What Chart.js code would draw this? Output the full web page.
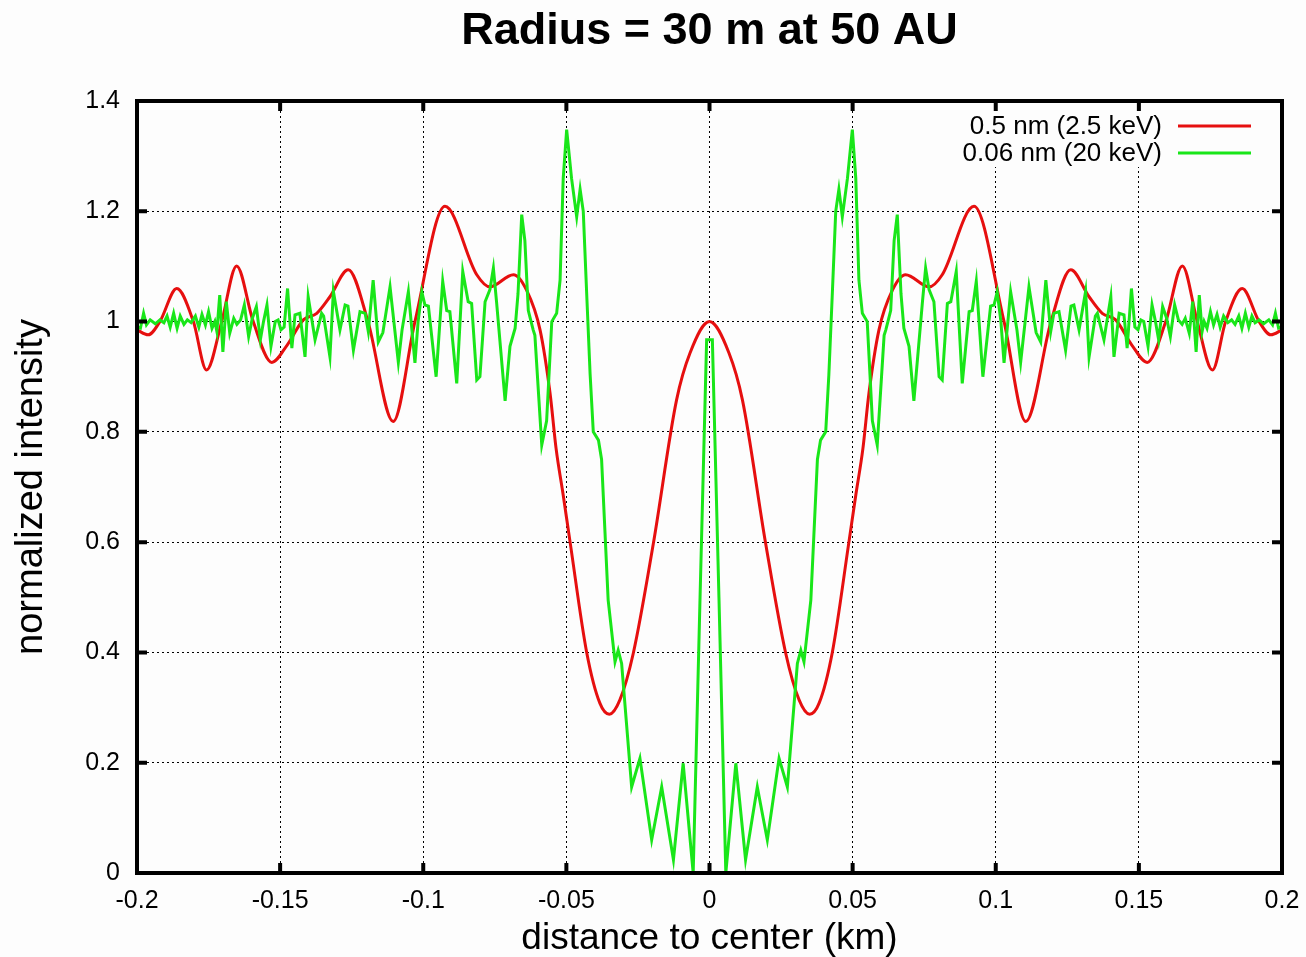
<!DOCTYPE html>
<html>
<head>
<meta charset="utf-8">
<script src="https://cdn.jsdelivr.net/npm/chart.js@4.4.1/dist/chart.umd.min.js"></script>
<style>
  body { margin: 0; background: #fdfdfd; }
  canvas { display: block; }
</style>
</head>
<body>
<canvas id="myChart" width="1306" height="957"></canvas>
<script>
/* data */
const xTicks = [-0.2, -0.15, -0.1, -0.05, 0, 0.05, 0.1, 0.15, 0.2];
const yTicks = [0, 0.2, 0.4, 0.6, 0.8, 1, 1.2, 1.4];

const redLabel = '0.5 nm (2.5 keV)';
const greenLabel = '0.06 nm (20 keV)';

const redDist = [
    -0.2000, -0.1961, -0.1920, -0.1861, -0.1803, -0.1757, -0.1704, -0.1652, -0.1594, -0.1529,
    -0.1476, -0.1419, -0.1372, -0.1326, -0.1262, -0.1193, -0.1105, -0.1029, -0.0924, -0.0813,
    -0.0767, -0.0685, -0.0639, -0.0592, -0.0557, -0.0536, -0.0511, -0.0487, -0.0429, -0.0383,
    -0.0350, -0.0313, -0.0266, -0.0196, -0.0115, -0.0068, 0,
    0.0068, 0.0115, 0.0196, 0.0266, 0.0313, 0.0350, 0.0383, 0.0429, 0.0487, 0.0511,
    0.0536, 0.0557, 0.0592, 0.0639, 0.0685, 0.0767, 0.0813, 0.0924, 0.1029, 0.1105,
    0.1193, 0.1262, 0.1326, 0.1372, 0.1419, 0.1476, 0.1529, 0.1594, 0.1652, 0.1704,
    0.1757, 0.1803, 0.1861, 0.1920, 0.1961, 0.2000
];
const redIntensity = [
    0.985, 0.976, 1.000, 1.060, 1.000, 0.912, 1.000, 1.101, 1.000, 0.926,
    0.957, 1.003, 1.015, 1.045, 1.094, 1.000, 0.819, 1.000, 1.209, 1.085,
    1.063, 1.085, 1.057, 0.985, 0.870, 0.770, 0.685, 0.600, 0.400, 0.308,
    0.288, 0.314, 0.399, 0.598, 0.858, 0.943, 1.000,
    0.943, 0.858, 0.598, 0.399, 0.314, 0.288, 0.308, 0.400, 0.600, 0.685,
    0.770, 0.870, 0.985, 1.057, 1.085, 1.063, 1.085, 1.209, 1.000, 0.819,
    1.000, 1.094, 1.045, 1.015, 1.003, 0.957, 0.926, 1.000, 1.101, 1.000,
    0.912, 1.000, 1.060, 1.000, 0.976, 0.985
];

const greenDist = [
    -0.2000, -0.1988, -0.1977, -0.1967, -0.1954, -0.1936, -0.1920, -0.1906, -0.1895, -0.1884,
    -0.1872, -0.1860, -0.1849, -0.1836, -0.1824, -0.1811, -0.1796, -0.1784, -0.1773, -0.1761,
    -0.1750, -0.1738, -0.1728, -0.1721, -0.1711, -0.1700, -0.1688, -0.1676, -0.1662, -0.1651,
    -0.1638, -0.1625, -0.1610, -0.1597, -0.1583, -0.1569, -0.1558, -0.1546, -0.1532, -0.1517,
    -0.1507, -0.1497, -0.1486, -0.1474, -0.1459, -0.1448, -0.1431, -0.1413, -0.1402, -0.1378,
    -0.1355, -0.1348, -0.1326, -0.1314, -0.1291, -0.1273, -0.1263, -0.1244, -0.1221, -0.1203,
    -0.1192, -0.1175, -0.1157, -0.1141, -0.1116, -0.1087, -0.1074, -0.1052, -0.1029, -0.1018,
    -0.1005, -0.0994, -0.0982, -0.0955, -0.0932, -0.0918, -0.0907, -0.0883, -0.0862, -0.0843,
    -0.0831, -0.0813, -0.0802, -0.0784, -0.0767, -0.0755, -0.0744, -0.0714, -0.0697, -0.0679,
    -0.0669, -0.0656, -0.0645, -0.0633, -0.0616, -0.0610, -0.0586, -0.0569, -0.0551, -0.0534,
    -0.0522, -0.0511, -0.0499, -0.0482, -0.0464, -0.0452, -0.0441, -0.0429, -0.0417, -0.0406,
    -0.0388, -0.0377, -0.0354, -0.0330, -0.0319, -0.0307, -0.0272, -0.0243, -0.0202, -0.0167,
    -0.0126, -0.0092, -0.0057, -0.0033, -0.0010,
    0.0010, 0.0033, 0.0057, 0.0092, 0.0126,
    0.0167, 0.0202, 0.0243, 0.0272, 0.0307, 0.0319, 0.0330, 0.0354, 0.0377, 0.0388,
    0.0406, 0.0417, 0.0429, 0.0441, 0.0452, 0.0464, 0.0482, 0.0499, 0.0511, 0.0522,
    0.0534, 0.0551, 0.0569, 0.0586, 0.0610, 0.0616, 0.0633, 0.0645, 0.0656, 0.0669,
    0.0679, 0.0697, 0.0714, 0.0744, 0.0755, 0.0767, 0.0784, 0.0802, 0.0813, 0.0831,
    0.0843, 0.0862, 0.0883, 0.0907, 0.0918, 0.0932, 0.0955, 0.0982, 0.0994, 0.1005,
    0.1018, 0.1029, 0.1052, 0.1074, 0.1087, 0.1116, 0.1141, 0.1157, 0.1175, 0.1192,
    0.1203, 0.1221, 0.1244, 0.1263, 0.1273, 0.1291, 0.1314, 0.1326, 0.1348, 0.1355,
    0.1378, 0.1402, 0.1413, 0.1431, 0.1448, 0.1459, 0.1474, 0.1486, 0.1497, 0.1507,
    0.1517, 0.1532, 0.1546, 0.1558, 0.1569, 0.1583, 0.1597, 0.1610, 0.1625, 0.1638,
    0.1651, 0.1662, 0.1676, 0.1688, 0.1700, 0.1711, 0.1721, 0.1728, 0.1738, 0.1750,
    0.1761, 0.1773, 0.1784, 0.1796, 0.1811, 0.1824, 0.1836, 0.1849, 0.1860, 0.1872,
    0.1884, 0.1895, 0.1906, 0.1920, 0.1936, 0.1954, 0.1967, 0.1977, 0.1988, 0.2000
];
const greenIntensity = [
    0.990, 0.988, 1.015, 0.994, 1.003, 0.996, 1.003, 0.998, 1.010, 0.990,
    1.015, 0.988, 1.010, 0.995, 1.003, 0.998, 1.010, 0.990, 1.013, 0.994,
    1.018, 0.988, 1.000, 0.982, 1.048, 0.945, 1.036, 0.979, 1.006, 0.995,
    1.003, 1.030, 0.973, 1.006, 1.027, 0.967, 1.000, 1.030, 0.955, 1.000,
    1.003, 0.985, 0.990, 1.060, 0.952, 1.012, 1.015, 0.936, 1.045, 0.967,
    1.015, 1.010, 0.936, 1.055, 0.985, 1.030, 1.028, 0.948, 1.018, 1.015,
    0.982, 1.075, 0.963, 0.980, 1.063, 0.926, 0.985, 1.054, 0.925, 1.000,
    1.054, 1.030, 1.028, 0.900, 1.073, 1.020, 1.018, 0.888, 1.091, 1.036,
    1.033, 0.894, 0.900, 1.036, 1.058, 1.097, 1.036, 0.856, 0.955, 0.988,
    1.050, 1.194, 1.147, 1.020, 0.985, 0.975, 0.776, 0.820, 1.000, 1.015,
    1.075, 1.260, 1.348, 1.260, 1.190, 1.240, 1.200, 1.050, 0.904, 0.800,
    0.785, 0.750, 0.495, 0.383, 0.404, 0.380, 0.156, 0.208, 0.060, 0.156,
    0.024, 0.199, 0.000, 0.500, 0.967,
    0.967, 0.500, 0.000, 0.199, 0.024,
    0.156, 0.060, 0.208, 0.156, 0.380, 0.404, 0.383, 0.495, 0.750, 0.785,
    0.800, 0.904, 1.050, 1.200, 1.240, 1.190, 1.260, 1.348, 1.260, 1.075,
    1.015, 1.000, 0.820, 0.776, 0.975, 0.985, 1.020, 1.147, 1.194, 1.050,
    0.988, 0.955, 0.856, 1.036, 1.097, 1.058, 1.036, 0.900, 0.894, 1.033,
    1.036, 1.091, 0.888, 1.018, 1.020, 1.073, 0.900, 1.028, 1.030, 1.054,
    1.000, 0.925, 1.054, 0.985, 0.926, 1.063, 0.980, 0.963, 1.075, 0.982,
    1.015, 1.018, 0.948, 1.028, 1.030, 0.985, 1.055, 0.936, 1.010, 1.015,
    0.967, 1.045, 0.936, 1.015, 1.012, 0.952, 1.060, 0.990, 0.985, 1.003,
    1.000, 0.955, 1.030, 1.000, 0.967, 1.027, 1.006, 0.973, 1.030, 1.003,
    0.995, 1.006, 0.979, 1.036, 0.945, 1.048, 0.982, 1.000, 0.988, 1.018,
    0.994, 1.013, 0.990, 1.010, 0.998, 1.003, 0.995, 1.010, 0.988, 1.015,
    0.990, 1.010, 0.998, 1.003, 0.996, 1.003, 0.994, 1.015, 0.988, 0.990
];

const RED = '#e60f0f';
const GREEN = '#19e619';
const FONT = '"Liberation Sans", Arial, Helvetica, sans-serif';

function toPoints(xs, ys) {
    return xs.map((x, i) => ({ x: x, y: ys[i] }));
}

function fmt(v) {
    return String(Number(v.toFixed(2)));
}

/* frame, inward ticks and the legend in the corner, gnuplot style */
const gnuplotFrame = {
    id: 'gnuplotFrame',
    beforeDraw(chart) {
        const ctx = chart.ctx;
        ctx.save();
        ctx.fillStyle = '#fdfdfd';
        ctx.fillRect(0, 0, chart.width, chart.height);
        ctx.restore();
    },
    beforeDatasetsDraw(chart) {
        const ctx = chart.ctx;
        ctx.save();
        ctx.fillStyle = '#fdfdfd';
        ctx.fillRect(958, 109, 310, 58);
        ctx.restore();
    },
    afterDraw(chart) {
        const ctx = chart.ctx;
        const a = chart.chartArea;
        const xs = chart.scales.x;
        const ys = chart.scales.y;
        ctx.save();
        ctx.strokeStyle = '#000';
        ctx.lineWidth = 4;
        ctx.beginPath();
        xTicks.forEach(v => {
            const p = xs.getPixelForValue(v);
            ctx.moveTo(p, a.bottom); ctx.lineTo(p, a.bottom - 10);
            ctx.moveTo(p, a.top); ctx.lineTo(p, a.top + 10);
        });
        yTicks.forEach(v => {
            const p = ys.getPixelForValue(v);
            ctx.moveTo(a.left, p); ctx.lineTo(a.left + 10, p);
            ctx.moveTo(a.right, p); ctx.lineTo(a.right - 10, p);
        });
        ctx.stroke();
        ctx.strokeRect(a.left, a.top, a.right - a.left, a.bottom - a.top);

        // legend
        ctx.font = '26px ' + FONT;
        ctx.fillStyle = '#000';
        ctx.textAlign = 'right';
        ctx.textBaseline = 'middle';
        ctx.fillText(redLabel, 1162, 127);
        ctx.fillText(greenLabel, 1162, 154);
        ctx.lineWidth = 3;
        ctx.strokeStyle = RED;
        ctx.beginPath(); ctx.moveTo(1178, 126); ctx.lineTo(1251, 126); ctx.stroke();
        ctx.strokeStyle = GREEN;
        ctx.beginPath(); ctx.moveTo(1178, 153); ctx.lineTo(1251, 153); ctx.stroke();
        ctx.restore();
    }
};

const ctx = document.getElementById('myChart').getContext('2d');
const myChart = new Chart(ctx, {
    type: 'line',
    data: {
        datasets: [{
            label: redLabel,
            data: toPoints(redDist, redIntensity),
            borderColor: RED,
            borderWidth: 3,
            pointRadius: 0,
            cubicInterpolationMode: 'monotone',
            order: 2
        }, {
            label: greenLabel,
            data: toPoints(greenDist, greenIntensity),
            borderColor: GREEN,
            borderWidth: 3,
            pointRadius: 0,
            tension: 0,
            order: 1
        }]
    },
    options: {
        responsive: false,
        animation: false,
        devicePixelRatio: 1,
        layout: { padding: { left: 0, right: 24, top: 0, bottom: 0 } },
        plugins: {
            legend: { display: false },
            tooltip: { enabled: false },
            title: {
                display: true,
                fullSize: false,
                text: 'Radius = 30 m at 50 AU',
                color: '#000',
                font: { family: FONT, size: 45, weight: 'bold' },
                padding: { top: 5, bottom: 42 }
            }
        },
        scales: {
            x: {
                type: 'linear',
                min: -0.2,
                max: 0.2,
                afterFit: s => { s.height = 84; s.paddingLeft = 0; s.paddingRight = 0; },
                afterBuildTicks: s => { s.ticks = xTicks.map(v => ({ value: v })); },
                ticks: {
                    color: '#000',
                    padding: 13,
                    maxRotation: 0,
                    font: { family: FONT, size: 25 },
                    callback: v => fmt(v)
                },
                grid: { color: '#000', lineWidth: 1, drawTicks: false },
                border: { display: false, dash: [2, 3] },
                title: {
                    display: true,
                    text: 'distance to center (km)',
                    color: '#000',
                    font: { family: FONT, size: 37, lineHeight: 1 },
                    padding: { top: 0, bottom: 0 }
                }
            },
            y: {
                type: 'linear',
                min: 0,
                max: 1.4,
                afterFit: s => { s.width = 137; },
                afterBuildTicks: s => { s.ticks = yTicks.map(v => ({ value: v })); },
                ticks: {
                    color: '#000',
                    padding: 17,
                    font: { family: FONT, size: 25 },
                    callback: v => fmt(v)
                },
                grid: { color: '#000', lineWidth: 1, drawTicks: false },
                border: { display: false, dash: [2, 3] },
                title: {
                    display: true,
                    text: 'normalized intensity',
                    color: '#000',
                    font: { family: FONT, size: 38 },
                    padding: { top: 9, bottom: 0 }
                }
            }
        }
    },
    plugins: [gnuplotFrame]
});
</script>
</body>
</html>
